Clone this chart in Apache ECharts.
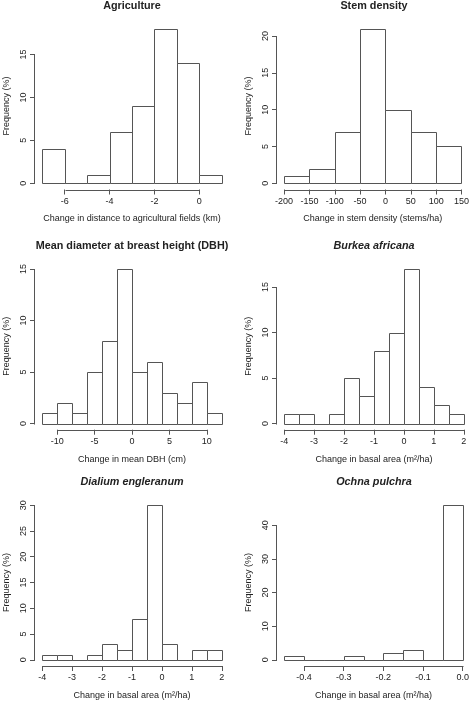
<!DOCTYPE html>
<html><head><meta charset="utf-8">
<script src="https://cdn.jsdelivr.net/npm/echarts@6/dist/echarts.min.js"></script>
<style>html,body{margin:0;padding:0;background:#fff}#c{width:472px;height:702px}</style>
</head><body><div id="c"></div>
<script>
// ---- data ----
const agriTitle = 'Agriculture';
const agriBreaks = [-7, -6, -5, -4, -3, -2, -1, 0, 1];
const agriCounts = [4, 0, 1, 6, 9, 18, 14, 1];
const agriXTicks = [-6, -4, -2, 0];
const agriYTicks = [0, 5, 10, 15];
const agriXName = 'Change in distance to agricultural fields (km)';

const stemTitle = 'Stem density';
const stemBreaks = [-200, -150, -100, -50, 0, 50, 100, 150];
const stemCounts = [1, 2, 7, 21, 10, 7, 5];
const stemXTicks = [-200, -150, -100, -50, 0, 50, 100, 150];
const stemYTicks = [0, 5, 10, 15, 20];
const stemXName = 'Change in stem density (stems/ha)';

const dbhTitle = 'Mean diameter at breast height (DBH)';
const dbhBreaks = [-12, -10, -8, -6, -4, -2, 0, 2, 4, 6, 8, 10, 12];
const dbhCounts = [1, 2, 1, 5, 8, 15, 5, 6, 3, 2, 4, 1];
const dbhXTicks = [-10, -5, 0, 5, 10];
const dbhYTicks = [0, 5, 10, 15];
const dbhXName = 'Change in mean DBH (cm)';

const burkeaTitle = 'Burkea africana';
const burkeaBreaks = [-4, -3.5, -3, -2.5, -2, -1.5, -1, -0.5, 0, 0.5, 1, 1.5, 2];
const burkeaCounts = [1, 1, 0, 1, 5, 3, 8, 10, 17, 4, 2, 1];
const burkeaXTicks = [-4, -3, -2, -1, 0, 1, 2];
const burkeaYTicks = [0, 5, 10, 15];
const burkeaXName = 'Change in basal area (m\u00B2/ha)';

const dialiumTitle = 'Dialium engleranum';
const dialiumBreaks = [-4, -3.5, -3, -2.5, -2, -1.5, -1, -0.5, 0, 0.5, 1, 1.5, 2];
const dialiumCounts = [1, 1, 0, 1, 3, 2, 8, 30, 3, 0, 2, 2];
const dialiumXTicks = [-4, -3, -2, -1, 0, 1, 2];
const dialiumYTicks = [0, 5, 10, 15, 20, 25, 30];
const dialiumXName = 'Change in basal area (m\u00B2/ha)';

const ochnaTitle = 'Ochna pulchra';
const ochnaBreaks = [-0.45, -0.4, -0.35, -0.3, -0.25, -0.2, -0.15, -0.1, -0.05, 0];
const ochnaCounts = [1, 0, 0, 1, 0, 2, 3, 0, 46];
const ochnaXTicks = [-0.4, -0.3, -0.2, -0.1, 0];
const ochnaYTicks = [0, 10, 20, 30, 40];
const ochnaXName = 'Change in basal area (m\u00B2/ha)';

const yName = 'Frequency (%)';

// ---- layout / style ----
const panels = [
  {title: agriTitle, breaks: agriBreaks, counts: agriCounts, xt: agriXTicks, yt: agriYTicks, xName: agriXName, italic: false, dec: 0, col: 0, row: 0},
  {title: stemTitle, breaks: stemBreaks, counts: stemCounts, xt: stemXTicks, yt: stemYTicks, xName: stemXName, italic: false, dec: 0, col: 1, row: 0},
  {title: dbhTitle, breaks: dbhBreaks, counts: dbhCounts, xt: dbhXTicks, yt: dbhYTicks, xName: dbhXName, italic: false, dec: 0, col: 0, row: 1},
  {title: burkeaTitle, breaks: burkeaBreaks, counts: burkeaCounts, xt: burkeaXTicks, yt: burkeaYTicks, xName: burkeaXName, italic: true, dec: 0, col: 1, row: 1},
  {title: dialiumTitle, breaks: dialiumBreaks, counts: dialiumCounts, xt: dialiumXTicks, yt: dialiumYTicks, xName: dialiumXName, italic: true, dec: 0, col: 0, row: 2},
  {title: ochnaTitle, breaks: ochnaBreaks, counts: ochnaCounts, xt: ochnaXTicks, yt: ochnaYTicks, xName: ochnaXName, italic: true, dec: 1, col: 1, row: 2}
];
const colLeft = [35, 277];
const rowTop = [22.5, 262.7, 499];
const gridW = 194, gridH = 167;
const FONT = '"Liberation Sans", Arial, Helvetica, sans-serif';
const LINE = '#555';
const TXT = '#222';

const grids = [], xAxes = [], yAxes = [], titles = [], series = [];

panels.forEach((p, i) => {
  const left = colLeft[p.col], top = rowTop[p.row];
  const b0 = p.breaks[0], bN = p.breaks[p.breaks.length - 1];
  const xr = bN - b0;
  const xmin = b0 - 0.04 * xr, xmax = bN + 0.04 * xr;
  const cmax = Math.max.apply(null, p.counts);
  const ymin = -0.04 * cmax, ymax = 1.04 * cmax;

  grids.push({left: left, top: top, width: gridW, height: gridH, containLabel: false});
  titles.push({
    text: p.title, left: left + gridW / 2, top: top - 16.7,
    textAlign: 'center', textVerticalAlign: 'middle', padding: 0,
    textStyle: {fontFamily: FONT, fontSize: 10.8, fontWeight: 'bold', fontStyle: p.italic ? 'italic' : 'normal', color: TXT}
  });
  const dec = p.dec;
  xAxes.push({
    type: 'value', gridIndex: i, min: xmin, max: xmax, position: 'bottom',
    axisLine: {show: false, onZero: false}, splitLine: {show: false},
    axisTick: {show: true, customValues: p.xt, length: 5, lineStyle: {color: LINE, width: 1}},
    axisLabel: {customValues: p.xt, margin: 7.5, fontSize: 9, fontFamily: FONT, color: TXT,
      formatter: v => Number(v).toFixed(dec)},
    name: p.xName, nameLocation: 'middle', nameGap: 25,
    nameTextStyle: {fontSize: 9, fontFamily: FONT, color: TXT}
  });
  yAxes.push({
    type: 'value', gridIndex: i, min: ymin, max: ymax, position: 'left',
    axisLine: {show: false, onZero: false}, splitLine: {show: false},
    axisTick: {show: true, customValues: p.yt, length: 5, lineStyle: {color: LINE, width: 1}},
    axisLabel: {customValues: p.yt, margin: 7, rotate: 90, fontSize: 9, fontFamily: FONT, color: TXT,
      formatter: v => String(Math.round(v))},
    name: yName, nameLocation: 'middle', nameGap: 24,
    nameTextStyle: {fontSize: 9, fontFamily: FONT, color: TXT}
  });

  const binData = p.counts.map((c, j) => [p.breaks[j], p.breaks[j + 1], c]);
  series.push({
    type: 'custom', xAxisIndex: i, yAxisIndex: i, data: binData,
    encode: {x: [0, 1], y: 2}, silent: true,
    renderItem: (params, api) => {
      const a = api.coord([api.value(0), 0]);
      const b = api.coord([api.value(1), api.value(2)]);
      const x0 = Math.round(a[0]), x1 = Math.round(b[0]);
      const y0 = Math.round(a[1]), y1 = Math.round(b[1]);
      return {type: 'rect', shape: {x: x0 + 0.5, y: y1 + 0.5, width: x1 - x0, height: y0 - y1},
        style: {fill: '#fff', stroke: LINE, lineWidth: 1}};
    }
  });
  // axis lines spanning first to last tick (R style)
  const xt = p.xt, yt = p.yt;
  series.push({
    type: 'custom', xAxisIndex: i, yAxisIndex: i, silent: true,
    data: [[xt[0], xt[xt.length - 1], yt[0], yt[yt.length - 1]]],
    encode: {x: [0, 1], y: [2, 3]},
    renderItem: (params, api) => {
      const xa = api.coord([api.value(0), ymin]);
      const xb = api.coord([api.value(1), ymin]);
      const ya = api.coord([xmin, api.value(2)]);
      const yb = api.coord([xmin, api.value(3)]);
      const yy = Math.round(xa[1]) + 0.5;
      const xx = Math.round(ya[0]) - 0.5;
      return {type: 'group', children: [
        {type: 'line', shape: {x1: Math.round(xa[0]) + 0.5, y1: yy, x2: Math.round(xb[0]) + 0.5, y2: yy}, style: {stroke: LINE, lineWidth: 1}},
        {type: 'line', shape: {x1: xx, y1: Math.round(ya[1]) + 0.5, x2: xx, y2: Math.round(yb[1]) + 0.5}, style: {stroke: LINE, lineWidth: 1}}
      ]};
    }
  });
});

const chart = echarts.init(document.getElementById('c'), null, {renderer: 'canvas'});
chart.setOption({
  animation: false,
  backgroundColor: '#fff',
  title: titles,
  grid: grids,
  xAxis: xAxes,
  yAxis: yAxes,
  series: series
});
</script>
</body></html>
